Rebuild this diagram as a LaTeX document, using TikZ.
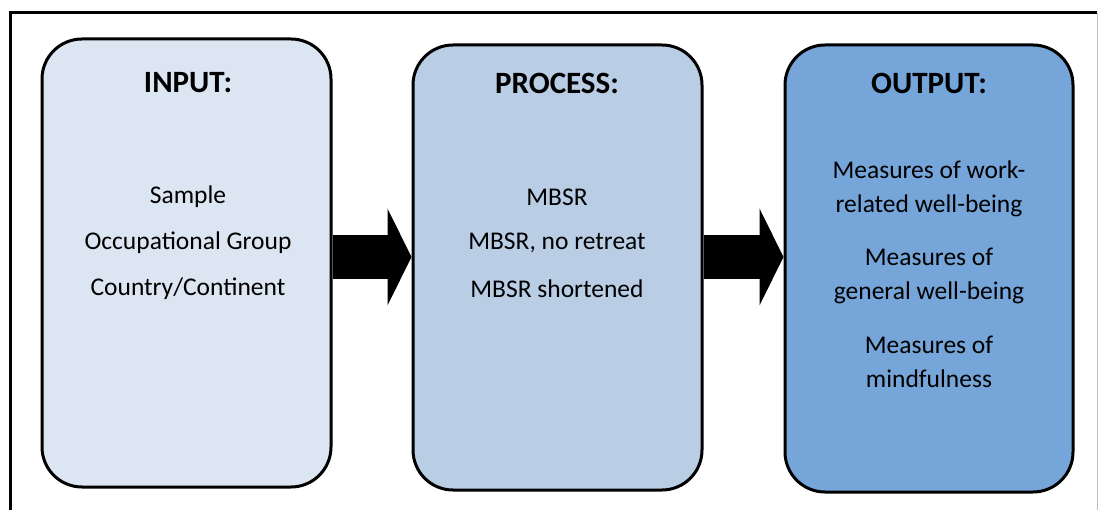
\documentclass[tikz,border=0pt]{standalone}
\usepackage{fontspec}
\setmainfont{Carlito}
\usetikzlibrary{arrows.meta}
\definecolor{inblue}{HTML}{DCE6F2}
\definecolor{procblue}{HTML}{B9CDE5}
\definecolor{outblue}{HTML}{75A5D9}
\begin{document}
\begin{tikzpicture}[x=1pt,y=-1pt,
    stage/.style={draw,line width=3pt,rounded corners=40pt,inner sep=0pt},
    head/.style={font=\fontsize{31}{36}\selectfont\bfseries},
    item/.style={font=\fontsize{25.5}{34}\selectfont,align=center},
    flow/.style={line width=44pt,-{Triangle[length=24pt,width=97pt,line width=0pt]}}]
      \useasboundingbox (0,0) rectangle (1100,510);
      % frame
      \draw[line width=3pt] (10,515) -- (10,13) -- (1097,13);
      \draw[black!25,line width=1pt] (1097,13) -- (1097,515);
      % stages
      \node[stage,fill=inblue,minimum width=289pt,minimum height=448pt] (in) at (186.5,263) {};
      \node[stage,fill=procblue,minimum width=289pt,minimum height=445pt] (proc) at (557.5,267.5) {};
      \node[stage,fill=outblue,minimum width=288pt,minimum height=447pt] (out) at (929,268.5) {};
      \node[head] (inhead) at (188,83) {INPUT:};
      \node[head] (prochead) at (557,83) {PROCESS:};
      \node[head] (outhead) at (929,83) {OUTPUT:};
      \node[item] (in1) at (188,197) {Sample};
      \node[item] (in2) at (188,243) {Occupational Group};
      \node[item] (in3) at (188,289) {Country/Continent};
      \node[item] (proc1) at (557,197) {MBSR};
      \node[item] (proc2) at (557,243) {MBSR, no retreat};
      \node[item] (proc3) at (557,289) {MBSR shortened};
      \node[item] (out1) at (929,189) {Measures of work-\\related well-being};
      \node[item] (out2) at (929,276) {Measures of\\general well-being};
      \node[item] (out3) at (929,362) {Measures of\\mindfulness};
      % arrows
      \draw[flow] (in.east |- 0,257) -- (proc.west |- 0,257);
      \draw[flow] (proc.east |- 0,257) -- (out.west |- 0,257);
\end{tikzpicture}
\end{document}
